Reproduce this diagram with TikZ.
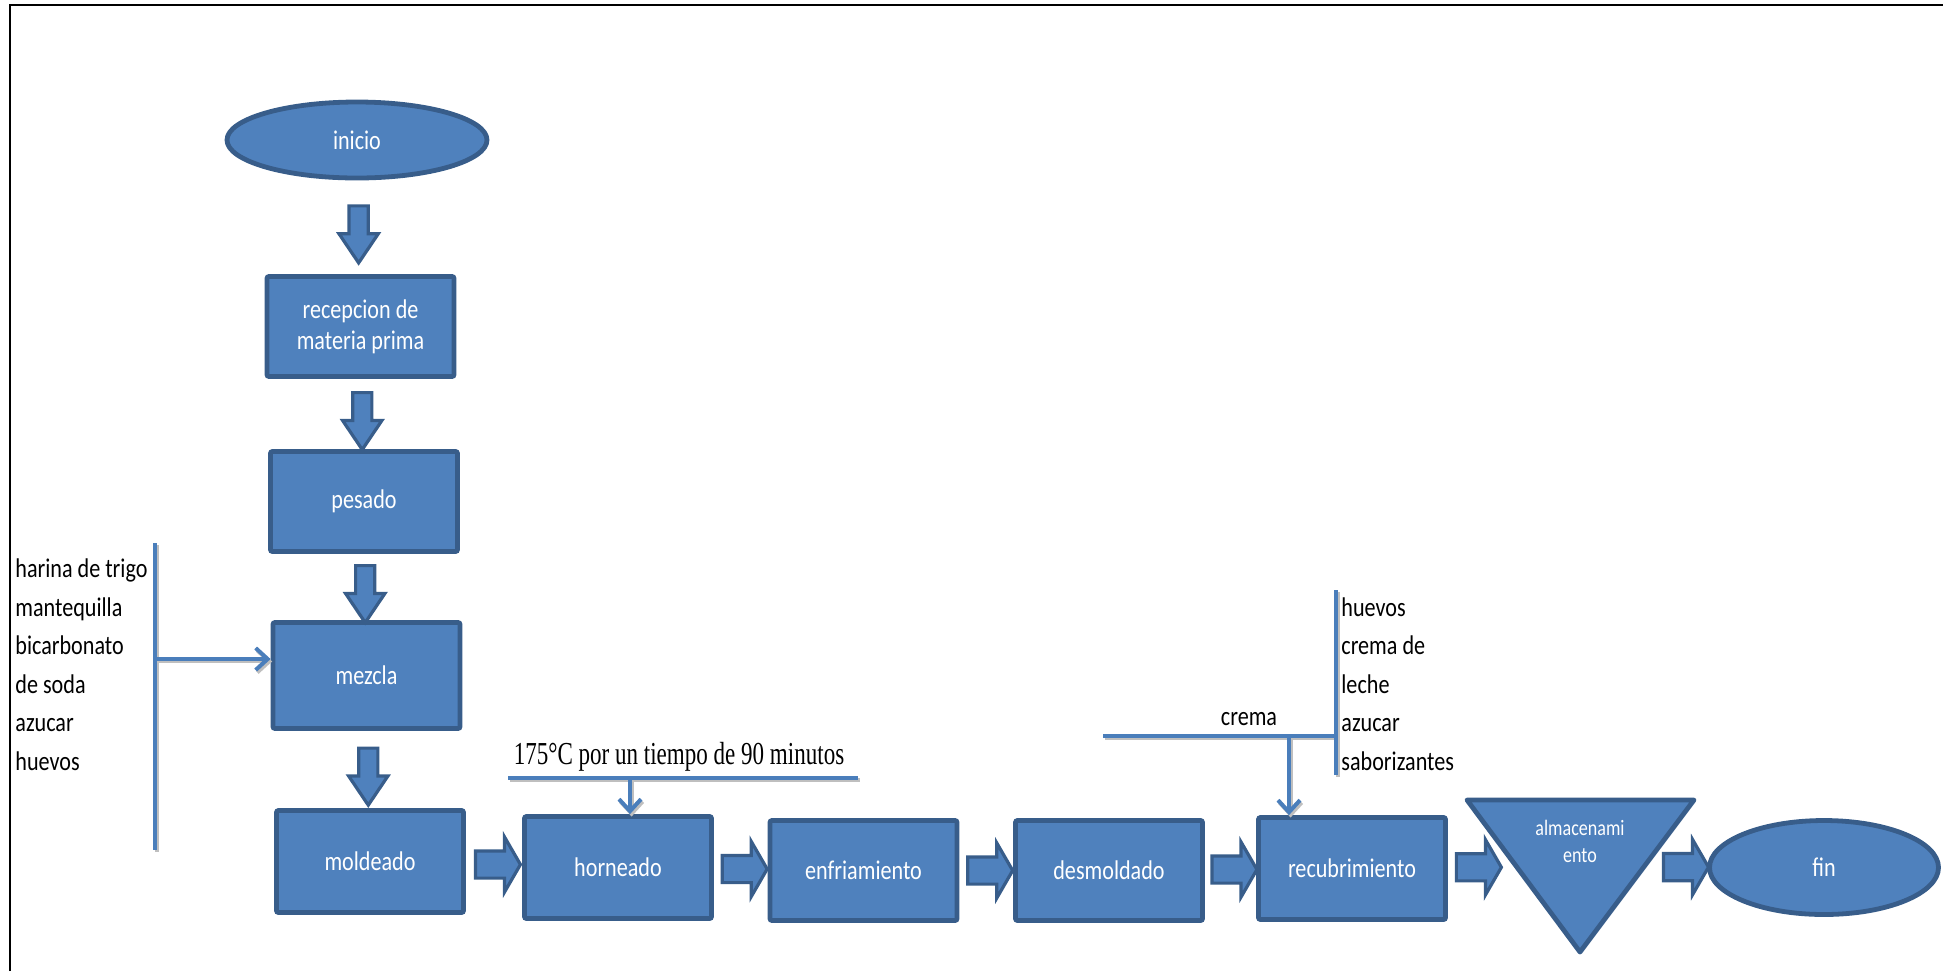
\documentclass[tikz,border=0pt]{standalone}
\usepackage{fontspec}
\setmainfont{Carlito}
\newfontfamily\narrowfont{Carlito}[FakeStretch=0.82]
\newfontfamily\tempfont{Liberation Serif}[FakeStretch=0.72]
\usetikzlibrary{shapes.geometric,shapes.arrows,arrows.meta}

\definecolor{boxfill}{HTML}{4F81BD}
\definecolor{boxline}{HTML}{385D8A}
\definecolor{feedline}{HTML}{4A7EBB}

\begin{document}
\begin{tikzpicture}[x=0.5pt, y=-0.5pt,
  proc/.style={draw=boxline, fill=boxfill, line width=2.4pt, rounded corners=1pt, minimum width=93.5pt, minimum height=50pt, inner sep=2pt, text=white, align=center, font=\narrowfont\fontsize{13.5}{15.5}\selectfont},
  term/.style={proc, ellipse, rounded corners=0pt},
  store/.style={draw=boxline, fill=boxfill, line width=2.4pt, line join=round},
  fat/.style={single arrow, draw=boxline, fill=boxfill, line width=1.6pt, inner xsep=0pt, single arrow head indent=0pt, outer sep=0pt},
  fatdown/.style={fat, rotate=-90, inner ysep=4pt, single arrow head extend=5pt, single arrow tip angle=68, minimum height=28.5pt},
  fatright/.style={fat, inner ysep=6pt, single arrow head extend=7pt, single arrow tip angle=120, minimum height=22.5pt},
  feed/.style={draw=feedline, line width=2pt, preaction={draw=black!25, line width=2pt, transform canvas={shift={(0.8pt,-1.2pt)}}}},
  feedarrow/.style={feed, -{Straight Barb[length=6pt,width=11pt]}},
  listtext/.style={anchor=west, align=left, inner sep=0pt, font=\narrowfont\fontsize{13.5}{19.25}\selectfont}
]
\useasboundingbox (0,0) rectangle (1943,971);

% frame
\draw[line width=1.3pt] (10,971) -- (10,5) -- (1943,5);

% main column
\node[term, minimum width=130pt, minimum height=38pt] (inicio) at (357,140) {inicio};
\node[proc] (recep) at (360.5,326.5) {recepcion de\\materia prima};
\node[proc] (pesado) at (364,501.5) {pesado};
\node[proc, minimum height=53pt] (mezcla) at (366.5,675.5) {mezcla};
\node[proc, minimum height=51pt] (moldeado) at (370,861.5) {moldeado};

% bottom row
\node[proc, minimum height=51pt] (horneado) at (618,867.5) {horneado};
\node[proc] (enfr) at (863.5,870.5) {enfriamiento};
\node[proc] (desm) at (1109,870.5) {desmoldado};
\node[proc, minimum height=51pt] (recub) at (1352,868.5) {recubrimiento};
\draw[store] (1467,800) -- (1694,800) -- (1580,952) -- cycle;
\node[text=white, align=center, font=\narrowfont\fontsize{11}{13.5}\selectfont] (almac) at (1580,841) {almacenami\\ento};
\coordinate (almw) at (1502,867);
\coordinate (alme) at (1657,867);
\node[term, minimum width=114.5pt, minimum height=47pt] (fin) at (1824,867.5) {fin};

% block arrows
\path (inicio) -- node[fatdown] {} (recep);
\path (recep) -- node[fatdown] {} (pesado);
\path (pesado) -- node[fatdown] {} (mezcla);
\path (mezcla) -- node[fatdown] {} (moldeado);
\path (moldeado) -- node[fatright] {} (horneado);
\path (horneado) -- node[fatright] {} (enfr);
\path (enfr) -- node[fatright] {} (desm);
\path (desm) -- node[fatright] {} (recub);
\path (recub) -- node[fatright] {} (almw);
\path (alme) -- node[fatright] {} (fin);

% ingredients for mezcla
\coordinate (ltop) at (155,543);
\coordinate (lbot) at (155,850);
\coordinate (lfeed) at (155,659);
\draw[feed] (ltop) -- (lbot);
\node[listtext] (ingr) at (15,664.5) {harina de trigo\\mantequilla\\bicarbonato\\de soda\\azucar\\huevos};
\draw[feedarrow] (lfeed) -- (lfeed -| mezcla.west);

% oven condition
\coordinate (tleft) at (508,778);
\coordinate (tright) at (858,778);
\coordinate (hfeed) at (630,778);
\draw[feed] (tleft) -- (tright);
\node[inner sep=0pt, font=\tempfont\fontsize{16}{18}\selectfont] (temp) at (679,757) {175°C por un tiempo de 90 minutos};
\draw[feedarrow] (hfeed) -- (hfeed |- horneado.north);

% coating
\coordinate (cleft) at (1103,736);
\coordinate (cright) at (1336,736);
\coordinate (ctop) at (1336,590);
\coordinate (cbot) at (1336,775);
\coordinate (cfeed) at (1289,736);
\draw[feed] (cleft) -- (cright);
\draw[feed] (ctop) -- (cbot);
\node[inner sep=0pt, font=\narrowfont\fontsize{13.5}{15}\selectfont] (crema) at (1249,719) {crema};
\node[listtext] (cover) at (1341,684) {huevos\\crema de\\leche\\azucar\\saborizantes};
\draw[feedarrow] (cfeed) -- (cfeed |- recub.north);

\end{tikzpicture}
\end{document}
